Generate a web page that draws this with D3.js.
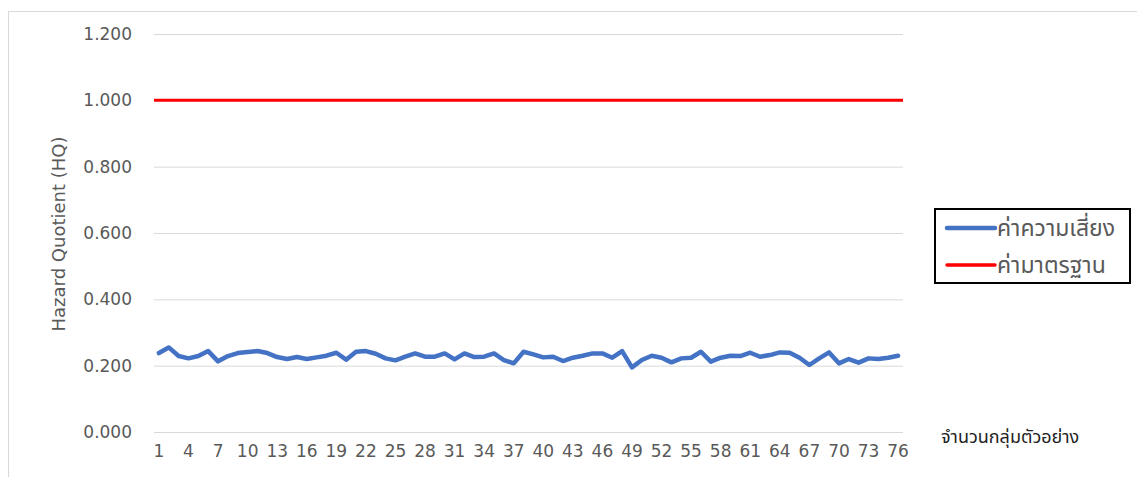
<!DOCTYPE html>
<html>
<head>
<meta charset="utf-8">
<script src="https://cdn.jsdelivr.net/npm/d3@7/dist/d3.min.js"></script>
<style>
  html, body { margin: 0; padding: 0; background: #fff; }
  svg { display: block; }
</style>
</head>
<body>
<svg id="chart" width="1137" height="477"></svg>
<script>
// ---- data ----
const categories = d3.range(1, 77).map(String);
const riskValues = [
  0.238, 0.255, 0.229, 0.222, 0.229, 0.244, 0.213, 0.229, 0.238, 0.241,
  0.244, 0.238, 0.226, 0.220, 0.226, 0.220, 0.225, 0.230, 0.239, 0.218,
  0.242, 0.244, 0.236, 0.222, 0.216, 0.227, 0.237, 0.227, 0.227, 0.237,
  0.219, 0.237, 0.226, 0.227, 0.237, 0.217, 0.207, 0.242, 0.234, 0.225,
  0.227, 0.214, 0.224, 0.230, 0.237, 0.237, 0.224, 0.244, 0.195, 0.217,
  0.230, 0.224, 0.210, 0.222, 0.224, 0.242, 0.212, 0.224, 0.230, 0.229,
  0.239, 0.227, 0.232, 0.240, 0.239, 0.224, 0.202, 0.222, 0.240, 0.207,
  0.220, 0.209, 0.222, 0.220, 0.224, 0.230
];
const standardValues = categories.map(() => 1.0);
const yTicks = [0, 0.2, 0.4, 0.6, 0.8, 1.0, 1.2];
const xTickLabels = categories.filter((d, i) => i % 3 === 0);
const seriesNames = ["ค่าความเสี่ยง", "ค่ามาตรฐาน"];
const seriesColors = ["#4472C4", "#FF0000"];
const yTitle = "Hazard Quotient (HQ)";
const xTitle = "จำนวนกลุ่มตัวอย่าง";

// ---- layout ----
const svg = d3.select("#chart");
const plot = { left: 154, right: 903, top: 34, bottom: 432 };
const font = "'DejaVu Sans', 'Noto Sans', sans-serif";
const thaiFont = "'Noto Sans Thai', 'Tahoma', 'DejaVu Sans', sans-serif";

// outer chart border
svg.append("rect")
  .attr("x", 8.5).attr("y", 11.5)
  .attr("width", 1137).attr("height", 480)
  .attr("fill", "none").attr("stroke", "#d9d9d9").attr("stroke-width", 1);

const x = d3.scaleBand().domain(categories).range([plot.left, plot.right]);
const xc = d => x(d) + x.bandwidth() / 2;
const xRed = d3.scalePoint().domain(categories).range([plot.left, plot.right]);
const y = d3.scaleLinear().domain([0, 1.2]).range([plot.bottom, plot.top]);

// gridlines
const grid = svg.append("g")
  .attr("transform", `translate(${plot.left},0)`)
  .call(d3.axisLeft(y).tickValues(yTicks).tickSize(-(plot.right - plot.left)).tickFormat(""));
grid.select(".domain").remove();
grid.selectAll("line").attr("stroke", "#d9d9d9").attr("stroke-width", 1);

// y axis labels
const yAxis = svg.append("g")
  .attr("transform", `translate(132,0)`)
  .call(d3.axisLeft(y).tickValues(yTicks).tickSize(0).tickPadding(0).tickFormat(d3.format(".3f")));
yAxis.select(".domain").remove();
yAxis.selectAll("text")
  .attr("fill", "#595959").style("font-family", font).style("font-size", "17px");

// x axis labels
const xAxis = svg.append("g")
  .attr("transform", `translate(0,${plot.bottom})`)
  .call(d3.axisBottom(x).tickValues(xTickLabels).tickSize(0).tickPadding(13));
xAxis.select(".domain").remove();
xAxis.selectAll("text")
  .attr("fill", "#595959").style("font-family", font).style("font-size", "17px");

// y title
svg.append("text")
  .attr("transform", `translate(65,${(140 + 328) / 2}) rotate(-90)`)
  .attr("text-anchor", "middle")
  .attr("fill", "#595959")
  .style("font-family", font).style("font-size", "18px")
  .text(yTitle);

// x title
svg.append("text")
  .attr("x", 941).attr("y", 443)
  .attr("fill", "#222")
  .style("font-family", thaiFont).style("font-size", "18px")
  .text(xTitle);

// series
const line = d3.line().x(d => xc(d[0])).y(d => y(d[1]));
const lineRed = d3.line().x(d => xRed(d[0])).y(d => y(d[1]));

svg.append("path")
  .datum(categories.map((c, i) => [c, standardValues[i]]))
  .attr("d", lineRed)
  .attr("fill", "none").attr("stroke", seriesColors[1]).attr("stroke-width", 3);

svg.append("path")
  .datum(categories.map((c, i) => [c, riskValues[i]]))
  .attr("d", line)
  .attr("fill", "none").attr("stroke", seriesColors[0]).attr("stroke-width", 4.5)
  .attr("stroke-linejoin", "round").attr("stroke-linecap", "round");

// legend
const lg = svg.append("g");
lg.append("rect")
  .attr("x", 935).attr("y", 209).attr("width", 195).attr("height", 74)
  .attr("fill", "#fff").attr("stroke", "#000").attr("stroke-width", 2);
seriesNames.forEach((name, i) => {
  const yy = 228 + i * 37;
  lg.append("line")
    .attr("x1", 947).attr("x2", 995).attr("y1", yy).attr("y2", yy)
    .attr("stroke", seriesColors[i]).attr("stroke-width", i === 0 ? 4.5 : 3.5)
    .attr("stroke-linecap", "round");
  lg.append("text")
    .attr("x", 997).attr("y", yy).attr("dy", "0.35em")
    .attr("fill", "#595959")
    .style("font-family", thaiFont).style("font-size", "23px")
    .text(name);
});
</script>
</body>
</html>
